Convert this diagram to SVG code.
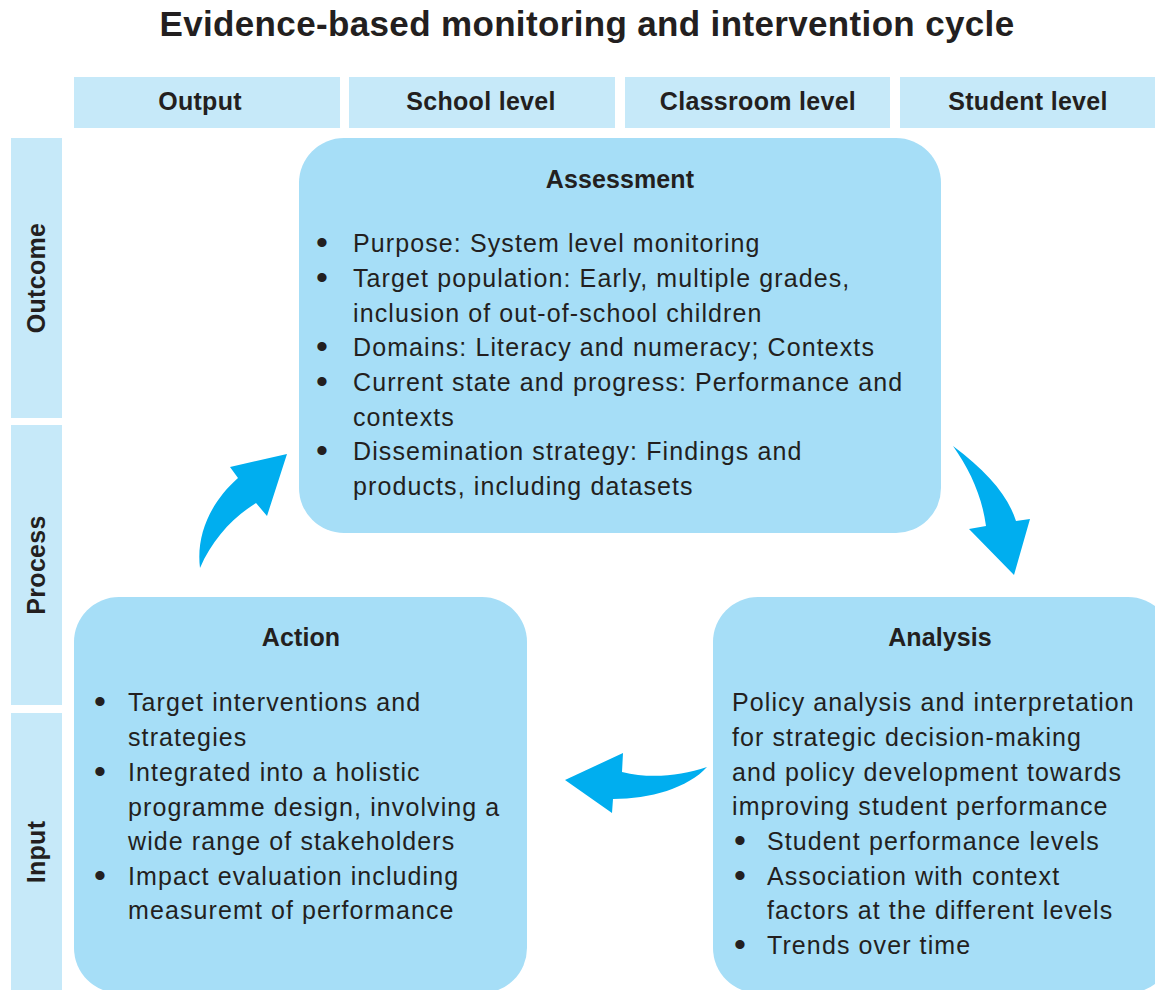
<svg xmlns="http://www.w3.org/2000/svg" width="1155" height="990" viewBox="0 0 1155 990">
<style>
.hdr{fill:#c6e9f9}
.box{fill:#a6def7}
.arr{fill:#00aeef}
text{font-family:"Liberation Sans",Arial,sans-serif;fill:#231f20}
.t{font-size:35px;font-weight:bold;letter-spacing:0.35px}
.h{font-size:25px;font-weight:bold;letter-spacing:0.3px}
.b{font-size:25px;letter-spacing:1.1px}
.d{font-size:34px}
.bt{font-size:25px;font-weight:bold;letter-spacing:0.1px}
</style>
<rect width="1155" height="990" fill="#fff"/>
<text class="t" x="587" y="36" text-anchor="middle">Evidence-based monitoring and intervention cycle</text>
<g id="col-output"><rect class="hdr" x="74" y="77" width="266" height="51"/><text class="h" x="200" y="110" text-anchor="middle">Output</text></g>
<g id="col-school"><rect class="hdr" x="349" y="77" width="266" height="51"/><text class="h" x="481" y="110" text-anchor="middle">School level</text></g>
<g id="col-classroom"><rect class="hdr" x="625" y="77" width="265" height="51"/><text class="h" x="758" y="110" text-anchor="middle">Classroom level</text></g>
<g id="col-student"><rect class="hdr" x="900" y="77" width="255" height="51"/><text class="h" x="1028" y="110" text-anchor="middle">Student level</text></g>
<g id="row-outcome"><rect class="hdr" x="11" y="138" width="51" height="280"/><text class="h" transform="translate(45,278) rotate(-90)" text-anchor="middle">Outcome</text></g>
<g id="row-process"><rect class="hdr" x="11" y="425" width="51" height="280"/><text class="h" transform="translate(45,565) rotate(-90)" text-anchor="middle">Process</text></g>
<g id="row-input"><rect class="hdr" x="11" y="713" width="51" height="280"/><text class="h" transform="translate(45,852) rotate(-90)" text-anchor="middle">Input</text></g>
<g id="assessment">
<rect class="box" x="299" y="138" width="642" height="395" rx="45"/>
<text class="bt" x="620" y="188" text-anchor="middle">Assessment</text>
<text class="d" x="316" y="254">•</text><text class="b" x="353" y="252">Purpose: System level monitoring</text>
<text class="d" x="316" y="289">•</text><text class="b" x="353" y="287">Target population: Early, multiple grades,</text>
<text class="b" x="353" y="322">inclusion of out-of-school children</text>
<text class="d" x="316" y="358">•</text><text class="b" x="353" y="356">Domains: Literacy and numeracy; Contexts</text>
<text class="d" x="316" y="393">•</text><text class="b" x="353" y="391">Current state and progress: Performance and</text>
<text class="b" x="353" y="426">contexts</text>
<text class="d" x="316" y="462">•</text><text class="b" x="353" y="460">Dissemination strategy: Findings and</text>
<text class="b" x="353" y="495">products, including datasets</text>
</g>
<g id="action">
<rect class="box" x="74" y="597" width="453" height="396" rx="45"/>
<text class="bt" x="301" y="646" text-anchor="middle">Action</text>
<text class="d" x="94" y="713">•</text><text class="b" x="128" y="711">Target interventions and</text>
<text class="b" x="128" y="746">strategies</text>
<text class="d" x="94" y="783">•</text><text class="b" x="128" y="781">Integrated into a holistic</text>
<text class="b" x="128" y="816">programme design, involving a</text>
<text class="b" x="128" y="850">wide range of stakeholders</text>
<text class="d" x="94" y="887">•</text><text class="b" x="128" y="885">Impact evaluation including</text>
<text class="b" x="128" y="919">measuremt of performance</text>
</g>
<g id="analysis">
<rect class="box" x="713" y="597" width="460" height="396" rx="45"/>
<text class="bt" x="940" y="646" text-anchor="middle">Analysis</text>
<text class="b" x="732" y="711">Policy analysis and interpretation</text>
<text class="b" x="732" y="746">for strategic decision-making</text>
<text class="b" x="732" y="781">and policy development towards</text>
<text class="b" x="732" y="815">improving student performance</text>
<text class="d" x="734" y="852">•</text><text class="b" x="767" y="850">Student performance levels</text>
<text class="d" x="734" y="887">•</text><text class="b" x="767" y="885">Association with context</text>
<text class="b" x="767" y="919">factors at the different levels</text>
<text class="d" x="734" y="956">•</text><text class="b" x="767" y="954">Trends over time</text>
</g>
<g id="connectors">
<path class="arr" d="M200,568 C196,535 210,503 238,478 L230,467 L287,454 L267,516 L256,503 C232,518 212,540 200,568 Z"/>
<path class="arr" d="M953,446 C988,472 1008,496 1016,521 L1030,519 L1014,575 L969,529 L986,526 C982,496 970,470 953,446 Z"/>
<path class="arr" d="M707,767 C680,776 650,779 622,772 L623,753 L565,780 L612,813 L613,799 C650,799 688,788 707,767 Z"/>
</g>
</svg>
